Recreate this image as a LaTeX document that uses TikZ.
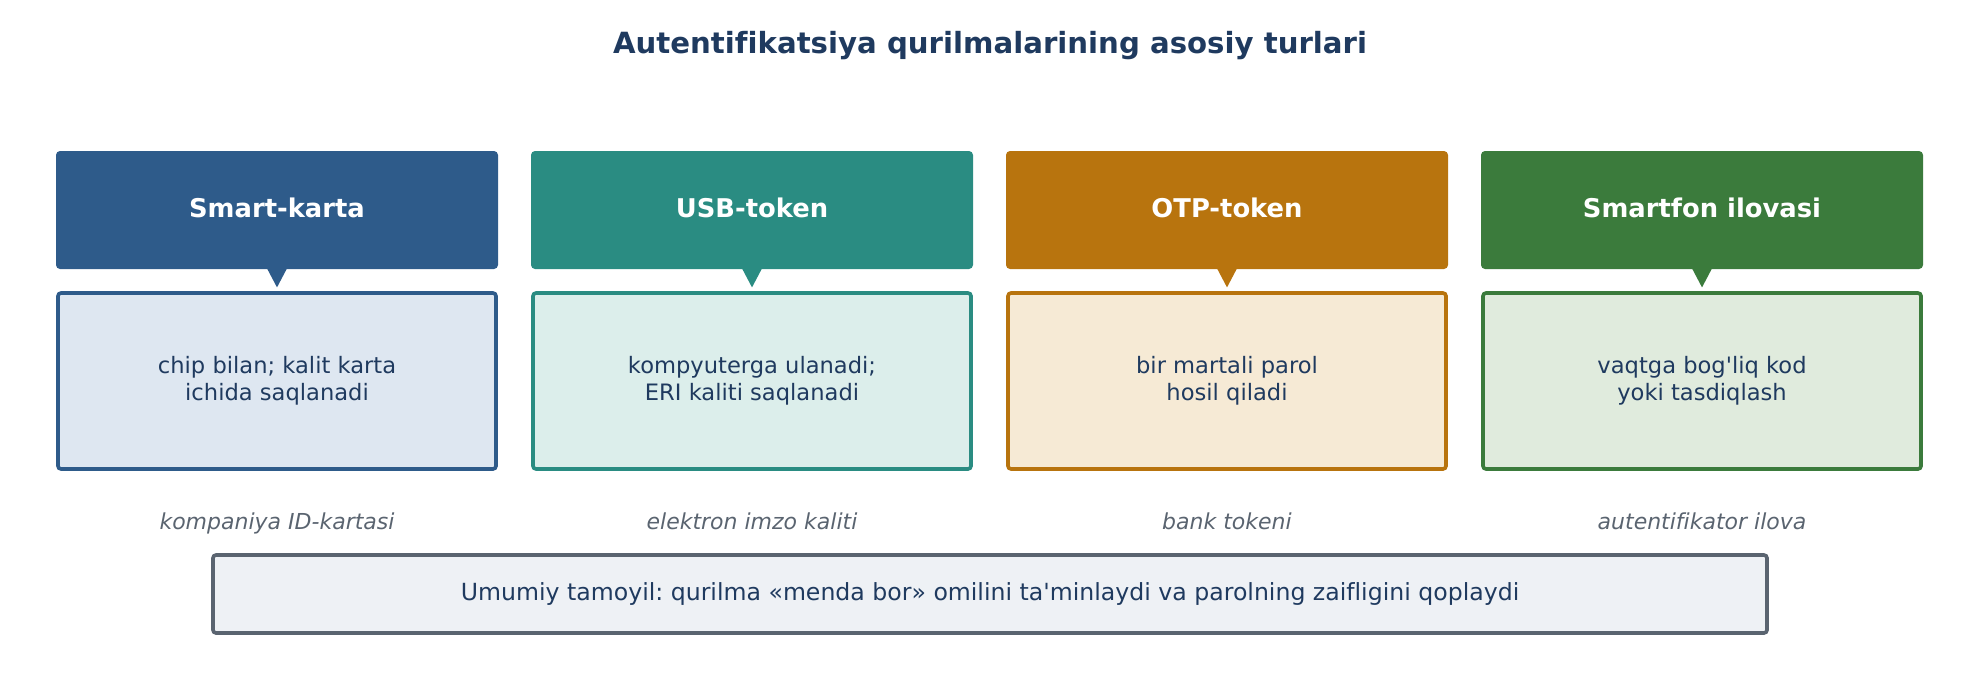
\documentclass[tikz,border=0pt]{standalone}
\usepackage{fontspec}
\setmainfont{DejaVu Sans}[Ligatures={NoCommon}]
\usepackage{tikz}
\usetikzlibrary{positioning}
\frenchspacing

\definecolor{navytext}{HTML}{1F3A5F}
\definecolor{graytext}{HTML}{5A6470}
\definecolor{cardblue}{HTML}{2E5B8A}
\definecolor{cardteal}{HTML}{2A8C82}
\definecolor{cardorange}{HTML}{B8740E}
\definecolor{cardgreen}{HTML}{3B7B3C}
\definecolor{fillblue}{HTML}{DEE7F1}
\definecolor{fillteal}{HTML}{DCEEEB}
\definecolor{fillorange}{HTML}{F6EAD5}
\definecolor{fillgreen}{HTML}{E0EBDD}
\definecolor{fillgray}{HTML}{EEF1F5}

\begin{document}
\begin{tikzpicture}[x=0.5pt,y=0.5pt,yscale=-1,xscale=1,
    headbox/.style={rounded corners=2pt, minimum width=221pt, minimum height=59pt, inner sep=0pt,
        text=white, font=\fontsize{12.9}{15}\selectfont\bfseries},
    bodybox/.style={rounded corners=1.5pt, line width=1.8pt, minimum width=219pt, minimum height=88pt,
        inner sep=0pt, align=center, text=navytext, font=\fontsize{11.3}{13.4}\selectfont},
    caption/.style={anchor=base, text=graytext, font=\fontsize{11}{13}\selectfont\itshape},
    ]
    \path (0,0) rectangle (1979,680);

    % Title
    \node (title) at (990,46) {\fontsize{14.6}{17}\selectfont\bfseries\color{navytext}Autentifikatsiya qurilmalarining asosiy turlari};

    % Header Node
    \node [headbox, fill=cardblue] (hsmart) at (277,210) {\raisebox{2pt}{Smart-karta}};
    \node [headbox, fill=cardteal] (husb) at (752,210) {\raisebox{2pt}{USB-token}};
    \node [headbox, fill=cardorange] (hotp) at (1227,210) {\raisebox{2pt}{OTP-token}};
    \node [headbox, fill=cardgreen] (hphone) at (1702,210) {\raisebox{2pt}{Smartfon ilovasi}};

    % Pointer
    \fill [cardblue] (hsmart.south) ++(-10,-1) -- ++(20,0) -- ++(-10,19) -- cycle;
    \fill [cardteal] (husb.south) ++(-10,-1) -- ++(20,0) -- ++(-10,19) -- cycle;
    \fill [cardorange] (hotp.south) ++(-10,-1) -- ++(20,0) -- ++(-10,19) -- cycle;
    \fill [cardgreen] (hphone.south) ++(-10,-1) -- ++(20,0) -- ++(-10,19) -- cycle;

    % Body Node
    \node [bodybox, draw=cardblue, fill=fillblue] (bsmart) at (277,381) {chip bilan; kalit karta\\ichida saqlanadi};
    \node [bodybox, draw=cardteal, fill=fillteal] (busb) at (752,381) {kompyuterga ulanadi;\\ERI kaliti saqlanadi};
    \node [bodybox, draw=cardorange, fill=fillorange] (botp) at (1227,381) {bir martali parol\\hosil qiladi};
    \node [bodybox, draw=cardgreen, fill=fillgreen] (bphone) at (1702,381) {vaqtga bog\textquotesingle liq kod\\yoki tasdiqlash};

    % Text Node
    \node [caption] (csmart) at (277,529) {kompaniya ID-kartasi};
    \node [caption] (cusb) at (752,529) {elektron imzo kaliti};
    \node [caption] (cotp) at (1227,529) {bank tokeni};
    \node [caption] (cphone) at (1702,529) {autentifikator ilova};

    % Summary Node
    \node [rounded corners=1.5pt, line width=1.8pt, draw=graytext, fill=fillgray, minimum width=777pt,
        minimum height=39pt, inner sep=0pt, text=navytext, font=\fontsize{11.8}{14}\selectfont] (summary) at (990,594)
        {Umumiy tamoyil: qurilma «menda bor» omilini ta\textquotesingle minlaydi va parolning zaifligini qoplaydi};

\end{tikzpicture}
\end{document}
